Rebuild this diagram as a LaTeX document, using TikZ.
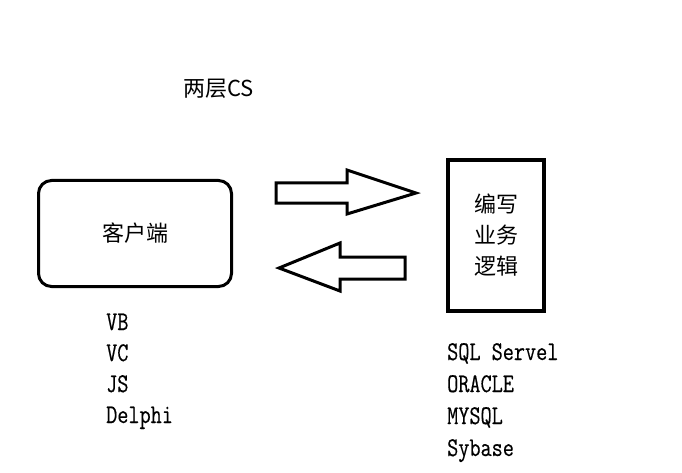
\documentclass[tikz,border=0pt]{standalone}
\usepackage{fontspec}
\newfontfamily\cjk{Noto Sans CJK SC}
\newfontfamily\monofont[FakeStretch=0.8,FakeBold=0.4]{Latin Modern Mono}
\usetikzlibrary{positioning}

\begin{document}
\begin{tikzpicture}[x=1pt, y=-1pt,
        client/.style = {draw, line width=3pt, rounded corners=13pt, minimum width=193pt, minimum height=106pt, font=\cjk\fontsize{22}{26}\selectfont},
        logic/.style = {draw, line width=4pt, minimum width=96pt, minimum height=151pt, align=center, font=\cjk\fontsize{22}{31}\selectfont},
        item/.style = {anchor=base west, inner sep=0pt, font=\monofont\fontsize{27}{30}\selectfont},
        blockarrow/.style = {draw, line width=3pt, line join=miter}]

                \useasboundingbox (0,0) rectangle (682,473);

                \node[anchor=base west, inner sep=0pt, font=\cjk\fontsize{22}{26}\selectfont] (title) at (183,97) {两层CS};

                \node[client] (client) at (135,233.5) {客户端};
                \node[logic] (logic) at (496,235.5) {编写\\业务\\逻辑};

                % request / response
                \draw[blockarrow] (276,183) -- (347,183) -- (347,170) -- (416,193) -- (347,214) -- (347,203) -- (276,203) -- cycle;
                \draw[blockarrow] (405,257) -- (340,257) -- (340,243) -- (279,268) -- (340,291) -- (340,279) -- (405,279) -- cycle;

                \node[item] (vb) at (106,330) {VB};
                \node[item] (vc) at (106,361) {VC};
                \node[item] (js) at (106,392) {JS};
                \node[item] (delphi) at (106,423) {Delphi};

                \node[item] (sqlserver) at (447,360) {SQL Servel};
                \node[item] (oracle) at (447,392) {ORACLE};
                \node[item] (mysql) at (447,424) {MYSQL};
                \node[item] (sybase) at (447,456) {Sybase};

            \end{tikzpicture}
\end{document}
